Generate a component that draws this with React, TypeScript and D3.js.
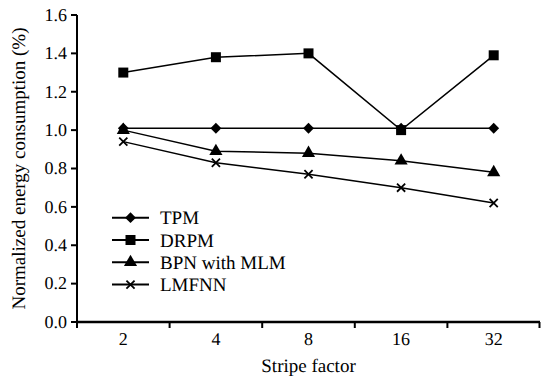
import * as d3 from "d3";

// stripe factors on the x axis
const categories = ["2", "4", "8", "16", "32"];

// normalized energy consumption per method
const tpm = [1.01, 1.01, 1.01, 1.01, 1.01];
const drpm = [1.3, 1.38, 1.4, 1.0, 1.39];
const bpn = [1.0, 0.89, 0.88, 0.84, 0.78];
const lmfnn = [0.94, 0.83, 0.77, 0.7, 0.62];

const seriesNames = ["TPM", "DRPM", "BPN with MLM", "LMFNN"];
const yTicks = [0, 0.2, 0.4, 0.6, 0.8, 1.0, 1.2, 1.4, 1.6];

const width = 541;
const height = 379;
const font = "Liberation Serif";
const margin = { top: 15, right: 1, bottom: 57, left: 77 };

const x = d3.scaleBand<string>()
    .domain(categories)
    .range([margin.left, width - margin.right]);

const y = d3.scaleLinear()
    .domain([0, 1.6])
    .range([height - margin.bottom, margin.top]);

const cx = (i: number) => (x(categories[i]) as number) + x.bandwidth() / 2;
const line = d3.line<number>().x((_, i) => cx(i)).y((d) => y(d));

const symbols = [
    d3.symbol(d3.symbolDiamond2, 75),
    d3.symbol(d3.symbolSquare, 100),
    d3.symbol(d3.symbolTriangle, 75),
    d3.symbol(d3.symbolTimes, 45),
];
const allSeries = [tpm, drpm, bpn, lmfnn];

function Marker({ k, px, py }: { k: number; px: number; py: number }) {
    const d = symbols[k]() as string;
    if (k === 3) {
        return <path d={d} transform={`translate(${px},${py})`} fill="none" stroke="#000" strokeWidth={1.8} />;
    }
    return <path d={d} transform={`translate(${px},${py})`} fill="#000" />;
}

function App() {
    const textStyle = (size: number) => ({ fontFamily: font, fontSize: `${size}px` });
    const bounds = categories.map((c) => Math.min((x(c) as number) + x.bandwidth(), width - 1.5));

    return (
        <svg
            width={width}
            height={height}
            textRendering="geometricPrecision"
            style={{ position: "absolute", left: 0, top: 0, background: "#fff" }}
        >
            {/* y axis */}
            <g transform={`translate(${margin.left},0)`}>
                <line x1={0} x2={0} y1={y(1.6)} y2={y(0) + 6} stroke="#000" strokeWidth={2} />
                {yTicks.map((t) => (
                    <g key={t} transform={`translate(0,${y(t)})`}>
                        <line x1={-6} x2={0} stroke="#000" strokeWidth={2} />
                        <text x={-10} dy="0.32em" textAnchor="end" style={textStyle(18)}>
                            {d3.format(".1f")(t)}
                        </text>
                    </g>
                ))}
            </g>

            {/* x axis: ticks on band boundaries, labels centred */}
            <g transform={`translate(0,${y(0)})`}>
                <line x1={margin.left} x2={width - margin.right} stroke="#000" strokeWidth={2.5} />
                {bounds.map((b, i) => (
                    <line key={i} x1={b} x2={b} y1={0} y2={6} stroke="#000" strokeWidth={2} />
                ))}
                {categories.map((c, i) => (
                    <text key={c} x={cx(i)} y={23} textAnchor="middle" style={textStyle(18)}>
                        {c}
                    </text>
                ))}
            </g>

            {/* axis titles */}
            <text x={(margin.left + width - margin.right) / 2} y={372} textAnchor="middle" style={textStyle(19)}>
                Stripe factor
            </text>
            <text
                transform={`translate(25,${(y(0) + y(1.6)) / 2}) rotate(-90)`}
                textAnchor="middle"
                style={textStyle(19)}
            >
                Normalized energy consumption (%)
            </text>

            {/* series */}
            {allSeries.map((vals, k) => (
                <g key={k}>
                    <path d={line(vals) as string} fill="none" stroke="#000" strokeWidth={1.5} />
                    {vals.map((v, i) => (
                        <Marker key={i} k={k} px={cx(i)} py={y(v)} />
                    ))}
                </g>
            ))}

            {/* legend */}
            {seriesNames.map((name, k) => {
                const ly = 217.7 + k * 22.3;
                return (
                    <g key={name}>
                        <line x1={112} x2={149} y1={ly} y2={ly} stroke="#000" strokeWidth={2} />
                        <Marker k={k} px={130.5} py={ly} />
                        <text x={160} y={ly + 6.5} style={textStyle(19)}>
                            {name}
                        </text>
                    </g>
                );
            })}
        </svg>
    );
}

export default App;
